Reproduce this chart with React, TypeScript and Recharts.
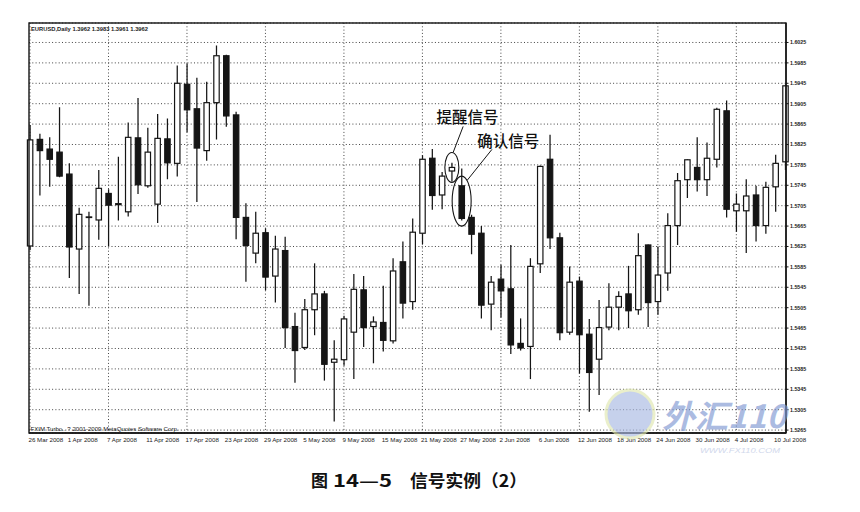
import React from 'react';
import { ComposedChart, Bar, XAxis, YAxis, CartesianGrid, ReferenceDot } from 'recharts';

const dates = [
  '26 Mar 2008', '27 Mar 2008', '28 Mar 2008', '31 Mar 2008',
  '1 Apr 2008', '2 Apr 2008', '3 Apr 2008', '4 Apr 2008', '7 Apr 2008', '8 Apr 2008', '9 Apr 2008', '10 Apr 2008', '11 Apr 2008',
  '14 Apr 2008', '15 Apr 2008', '16 Apr 2008', '17 Apr 2008', '18 Apr 2008', '21 Apr 2008', '22 Apr 2008', '23 Apr 2008',
  '24 Apr 2008', '25 Apr 2008', '28 Apr 2008', '29 Apr 2008', '30 Apr 2008',
  '1 May 2008', '2 May 2008', '5 May 2008', '6 May 2008', '7 May 2008', '8 May 2008', '9 May 2008', '12 May 2008', '13 May 2008',
  '14 May 2008', '15 May 2008', '16 May 2008', '19 May 2008', '20 May 2008', '21 May 2008', '22 May 2008', '23 May 2008',
  '26 May 2008', '27 May 2008', '28 May 2008', '29 May 2008', '30 May 2008',
  '2 Jun 2008', '3 Jun 2008', '4 Jun 2008', '5 Jun 2008', '6 Jun 2008', '9 Jun 2008', '10 Jun 2008', '11 Jun 2008', '12 Jun 2008',
  '13 Jun 2008', '16 Jun 2008', '17 Jun 2008', '18 Jun 2008', '19 Jun 2008', '20 Jun 2008', '23 Jun 2008', '24 Jun 2008',
  '25 Jun 2008', '26 Jun 2008', '27 Jun 2008', '30 Jun 2008',
  '1 Jul 2008', '2 Jul 2008', '3 Jul 2008', '4 Jul 2008', '7 Jul 2008', '8 Jul 2008', '9 Jul 2008', '10 Jul 2008', '11 Jul 2008',
];

const opens = [
  1.5626, 1.5835, 1.5816, 1.5810, 1.5767, 1.5620, 1.5682, 1.5677, 1.5729, 1.5707,
  1.5693, 1.5838, 1.5744, 1.5708, 1.5836, 1.5788, 1.5943, 1.5895, 1.5813, 1.5907,
  1.5999, 1.5883, 1.5682, 1.5612, 1.5652, 1.5567, 1.5617, 1.5468, 1.5427, 1.5501,
  1.5532, 1.5398, 1.5403, 1.5457, 1.5540, 1.5468, 1.5476, 1.5440, 1.5595, 1.5517,
  1.5651, 1.5798, 1.5726, 1.5773, 1.5744, 1.5682, 1.5651, 1.5512, 1.5561, 1.5542,
  1.5435, 1.5429, 1.5591, 1.5796, 1.5642, 1.5457, 1.5557, 1.5453, 1.5404, 1.5467,
  1.5506, 1.5532, 1.5501, 1.5628, 1.5517, 1.5573, 1.5666, 1.5756, 1.5780, 1.5756,
  1.5796, 1.5891, 1.5695, 1.5695, 1.5726, 1.5666, 1.5742, 1.5791,
];

const highs = [
  1.5863, 1.5846, 1.5839, 1.5898, 1.5788, 1.5701, 1.5693, 1.5775, 1.5737, 1.5801,
  1.5868, 1.5916, 1.5858, 1.5885, 1.5876, 1.5980, 1.5984, 1.5956, 1.5948, 1.6019,
  1.6001, 1.5889, 1.5710, 1.5693, 1.5661, 1.5646, 1.5644, 1.5495, 1.5522, 1.5592,
  1.5538, 1.5441, 1.5489, 1.5571, 1.5567, 1.5488, 1.5548, 1.5602, 1.5635, 1.5680,
  1.5804, 1.5816, 1.5771, 1.5789, 1.5778, 1.5687, 1.5665, 1.5567, 1.5589, 1.5628,
  1.5484, 1.5602, 1.5784, 1.5844, 1.5652, 1.5586, 1.5566, 1.5483, 1.5520, 1.5553,
  1.5537, 1.5587, 1.5651, 1.5629, 1.5625, 1.5690, 1.5769, 1.5796, 1.5839, 1.5829,
  1.5897, 1.5911, 1.5729, 1.5757, 1.5744, 1.5752, 1.5805, 1.5942,
];

const lows = [
  1.5618, 1.5725, 1.5742, 1.5761, 1.5563, 1.5532, 1.5509, 1.5638, 1.5626, 1.5676,
  1.5684, 1.5728, 1.5740, 1.5671, 1.5757, 1.5762, 1.5849, 1.5712, 1.5793, 1.5835,
  1.5860, 1.5639, 1.5556, 1.5592, 1.5539, 1.5515, 1.5426, 1.5358, 1.5422, 1.5451,
  1.5362, 1.5282, 1.5391, 1.5365, 1.5428, 1.5396, 1.5419, 1.5435, 1.5484, 1.5501,
  1.5630, 1.5697, 1.5698, 1.5752, 1.5676, 1.5610, 1.5484, 1.5461, 1.5486, 1.5414,
  1.5421, 1.5365, 1.5573, 1.5620, 1.5441, 1.5452, 1.5376, 1.5301, 1.5334, 1.5461,
  1.5461, 1.5465, 1.5491, 1.5467, 1.5491, 1.5538, 1.5628, 1.5720, 1.5733, 1.5724,
  1.5780, 1.5682, 1.5654, 1.5612, 1.5635, 1.5650, 1.5693, 1.5775,
];

const closes = [
  1.5834, 1.5813, 1.5796, 1.5763, 1.5624, 1.5688, 1.5683, 1.5739, 1.5706, 1.5709,
  1.5839, 1.5746, 1.5810, 1.5837, 1.5789, 1.5945, 1.5893, 1.5818, 1.5907, 1.5999,
  1.5881, 1.5682, 1.5627, 1.5651, 1.5565, 1.5620, 1.5466, 1.5421, 1.5501, 1.5532,
  1.5394, 1.5404, 1.5483, 1.5541, 1.5466, 1.5477, 1.5441, 1.5577, 1.5514, 1.5653,
  1.5796, 1.5725, 1.5763, 1.5780, 1.5680, 1.5649, 1.5510, 1.5555, 1.5538, 1.5432,
  1.5426, 1.5586, 1.5782, 1.5642, 1.5456, 1.5555, 1.5452, 1.5378, 1.5466, 1.5506,
  1.5527, 1.5499, 1.5607, 1.5515, 1.5569, 1.5666, 1.5754, 1.5795, 1.5756, 1.5798,
  1.5894, 1.5698, 1.5708, 1.5724, 1.5666, 1.5741, 1.5788, 1.5940,
];

const priceTicks = [
  1.5265, 1.5305, 1.5345, 1.5385, 1.5425, 1.5465, 1.5505, 1.5545, 1.5585, 1.5625,
  1.5665, 1.5705, 1.5745, 1.5785, 1.5825, 1.5865, 1.5905, 1.5945, 1.5985, 1.6025,
];

const priceDomain = [1.52593, 1.60632];

const headerText = 'EURUSD,Daily  1.3962 1.3983 1.3961 1.3962';
const footerText = 'FXIM Turbo.. ? 2001-2009 MetaQuotes Software Corp.';
const alertLabel = '提醒信号';
const confirmLabel = '确认信号';
const alertBar = 43;
const alertPrice = 1.5780;
const confirmBar = 44;
const confirmPrice = 1.5714;

const data = dates.map((date, i) => ({
  date,
  open: opens[i],
  high: highs[i],
  low: lows[i],
  close: closes[i],
  range: [lows[i], highs[i]],
}));

const gridDates = dates.filter((_, i) => i % 2 === 0);

const INK = '#151515';
const GRID = '#444444';

function Candle(props: any) {
  const { x, y, width, height, payload } = props;
  if (!payload || x == null || y == null) return null;
  const top = Math.min(y, y + height);
  const h = Math.abs(height);
  const { open, close, high, low } = payload;
  const py = (v: number) => (high === low ? top : top + ((high - v) / (high - low)) * h);
  const cx = x + width / 2;
  const bw = 5.4;
  const yo = py(open);
  const yc = py(close);
  const bodyTop = Math.min(yo, yc);
  const bodyH = Math.max(Math.abs(yc - yo), 0.6);
  const up = close >= open;
  return (
    <g>
      <line x1={cx} x2={cx} y1={top} y2={top + h} stroke={INK} strokeWidth={1.25} />
      <rect x={cx - bw / 2} y={bodyTop} width={bw} height={bodyH} fill={up ? '#ffffff' : INK} stroke={INK} strokeWidth={1.2} />
    </g>
  );
}

function DateTick(props: any) {
  const { x, y, payload } = props;
  return (
    <text x={x - 1.5} y={y + 8.5} fontSize={6.2} fontFamily="Liberation Sans, Arial, sans-serif" fill="#222" textAnchor="start">
      {payload.value}
    </text>
  );
}

function PriceTick(props: any) {
  const { x, y, payload } = props;
  return (
    <text x={x} y={y + 2} fontSize={5.3} fontFamily="Liberation Sans, Arial, sans-serif" fontWeight="bold" fill="#222" textAnchor="start">
      {Number(payload.value).toFixed(4)}
    </text>
  );
}

function AlertMark(props: any) {
  const { cx, cy } = props;
  if (cx == null || cy == null) return null;
  return (
    <g>
      <ellipse cx={cx} cy={cy} rx={7} ry={15} fill="none" stroke={INK} strokeWidth={1.1} />
      <line x1={cx + 11.3} y1={cy - 41} x2={cx + 1.3} y2={cy - 15} stroke={INK} strokeWidth={1} />
      <text x={cx - 15.3} y={cy - 44} fontSize={15.5} fontWeight={500} fontFamily="Noto Sans CJK SC, sans-serif" fill="#111">
        {alertLabel}
      </text>
    </g>
  );
}

function ConfirmMark(props: any) {
  const { cx, cy } = props;
  if (cx == null || cy == null) return null;
  return (
    <g>
      <ellipse cx={cx} cy={cy} rx={9.5} ry={25} fill="none" stroke={INK} strokeWidth={1.1} />
      <line x1={cx + 30.3} y1={cy - 51.7} x2={cx + 5.7} y2={cy - 21} stroke={INK} strokeWidth={1} />
      <text x={cx + 15.7} y={cy - 54.5} fontSize={15.5} fontWeight={500} fontFamily="Noto Sans CJK SC, sans-serif" fill="#111">
        {confirmLabel}
      </text>
    </g>
  );
}

export default function App() {
  return (
    <div style={{ position: 'absolute', left: 0, top: 0, width: 860, height: 512, background: '#ffffff', overflow: 'hidden' }}>
      <ComposedChart
        width={860}
        height={450}
        data={data}
        margin={{ top: 23, right: 14, bottom: 0, left: 29 }}
      >
        <CartesianGrid
          stroke={GRID}
          strokeDasharray="1 2.3"
          horizontal={true}
          vertical={true}
          verticalValues={gridDates}
        />
        <XAxis
          dataKey="date"
          interval={3}
          tick={<DateTick />}
          tickLine={false}
          tickSize={0}
          tickMargin={0}
          height={17}
          padding={{ left: -3.9, right: -4.3 }}
          allowDataOverflow
          axisLine={{ stroke: INK, strokeWidth: 1.4 }}
        />
        <YAxis
          orientation="right"
          domain={priceDomain}
          ticks={priceTicks}
          interval={0}
          allowDataOverflow
          width={60}
          tick={<PriceTick />}
          tickSize={2.5}
          tickMargin={1.5}
          tickLine={{ stroke: INK }}
          axisLine={{ stroke: INK, strokeWidth: 1.4 }}
        />
        <Bar dataKey="range" barSize={6} shape={<Candle />} isAnimationActive={false} />
        <ReferenceDot x={dates[alertBar]} y={alertPrice} r={0} shape={<AlertMark />} />
        <ReferenceDot x={dates[confirmBar]} y={confirmPrice} r={0} shape={<ConfirmMark />} />
      </ComposedChart>
      <svg width={860} height={512} style={{ position: 'absolute', left: 0, top: 0, pointerEvents: 'none' }}>
        <rect x={29} y={23} width={757} height={410} fill="none" stroke={INK} strokeWidth={1.4} />
        <text x={31} y={30.5} fontSize={5.6} fontWeight="bold" fontFamily="Liberation Sans, Arial, sans-serif" fill="#222" textLength={117} lengthAdjust="spacingAndGlyphs">
          {headerText}
        </text>
        <text x={30.5} y={431} fontSize={5.8} fontFamily="Liberation Sans, Arial, sans-serif" fill="#222" textLength={148} lengthAdjust="spacingAndGlyphs">
          {footerText}
        </text>
        <g opacity={0.65}>
          <circle cx={630} cy={414} r={24} fill="#a9b9e2" />
          <circle cx={630} cy={414} r={24} fill="none" stroke="#dfe7b0" strokeWidth={3} />
          <text x={662} y={428} fontSize={32} fontStyle="italic" fontWeight="bold" fontFamily="Noto Sans CJK SC, sans-serif" fill="#7f98d2" textLength={124} lengthAdjust="spacingAndGlyphs">
            外汇110
          </text>
          <text x={700} y={453} fontSize={8} fontStyle="italic" fontFamily="Liberation Sans, Arial, sans-serif" fill="#b8c4e2" textLength={80} lengthAdjust="spacingAndGlyphs">
            WWW.FX110.COM
          </text>
        </g>
        <text x={311} y={487} fontSize={17} fontWeight="bold" fontFamily="Noto Sans CJK SC, sans-serif" fill="#111">
          图
        </text>
        <text x={333} y={487} fontSize={17} fontWeight="bold" fontFamily="Noto Sans CJK SC, sans-serif" fill="#111" textLength={59} lengthAdjust="spacingAndGlyphs">
          14—5
        </text>
        <text x={410} y={487} fontSize={17} fontWeight="bold" fontFamily="Noto Sans CJK SC, sans-serif" fill="#111" textLength={117} lengthAdjust="spacingAndGlyphs">
          信号实例（2）
        </text>
      </svg>
    </div>
  );
}
